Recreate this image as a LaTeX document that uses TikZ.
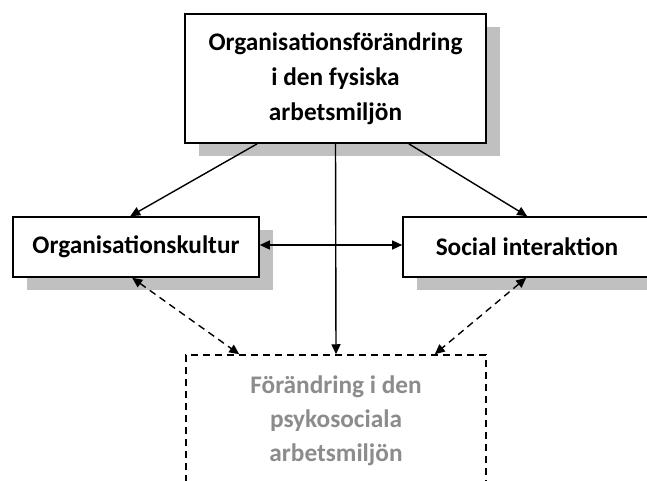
\documentclass[tikz,border=0pt]{standalone}
\usepackage{fontspec}
\setmainfont{Carlito}
\usetikzlibrary{arrows.meta,shadows}
\definecolor{shadowgray}{HTML}{C0C0C0}
\definecolor{softtext}{HTML}{8C8C8C}
\tikzset{
  box/.style={draw=black, line width=1.6pt, fill=white, rectangle, inner sep=0pt,
    align=center, font=\bfseries\fontsize{25.3}{35}\selectfont,
    drop shadow={shadow xshift=14pt, shadow yshift=-13pt, fill=shadowgray, opacity=1}},
  dbox/.style={draw=black, line width=1.5pt, dash pattern=on 7pt off 5pt, rectangle, inner sep=0pt,
    align=center, text=softtext, font=\bfseries\fontsize{25.3}{34}\selectfont},
  conn/.style={line width=1.4pt, -{Triangle[length=10pt,width=9pt]}},
  dconn/.style={line width=1.4pt, dash pattern=on 7pt off 5pt, {Triangle[length=10pt,width=9pt]}-{Triangle[length=10pt,width=9pt]}},
}
\begin{document}
\begin{tikzpicture}[x=1pt,y=-1pt]
\useasboundingbox (0,0) rectangle (647,481);
\clip (0,0) rectangle (647,481);
\fill[white] (0,0) rectangle (647,481);
\node[box, minimum width=301pt, minimum height=129pt] (top) at (335.5,78.5)
  {Organisationsförändring\\i den fysiska\\arbetsmiljön};
\node[box, minimum width=246pt, minimum height=60pt] (left) at (136,247) {Organisationskultur};
\node[box, minimum width=270pt, minimum height=60pt] (right) at (538,247) {Social interaktion\hspace*{22pt}};
\node[dbox, minimum width=300pt, minimum height=132pt] (bottom) at (336,421)
  {Förändring i den\\psykosociala\\arbetsmiljön};
\draw[conn] ([xshift=73pt]top.south west) -- ([xshift=118pt]left.north west);
\draw[conn] ([xshift=-78pt]top.south east) -- ([xshift=125pt]right.north west);
\draw[conn] (top.south) -- (bottom.north);
\draw[conn, {Triangle[length=10pt,width=9pt]}-{Triangle[length=10pt,width=9pt]}] ([yshift=2pt]left.east) -- ([yshift=2pt]right.west);
\draw[dconn] ([xshift=120pt]left.south west) -- ([xshift=54pt]bottom.north west);
\draw[dconn] ([xshift=124pt]right.south west) -- ([xshift=-52pt]bottom.north east);
\end{tikzpicture}
\end{document}
